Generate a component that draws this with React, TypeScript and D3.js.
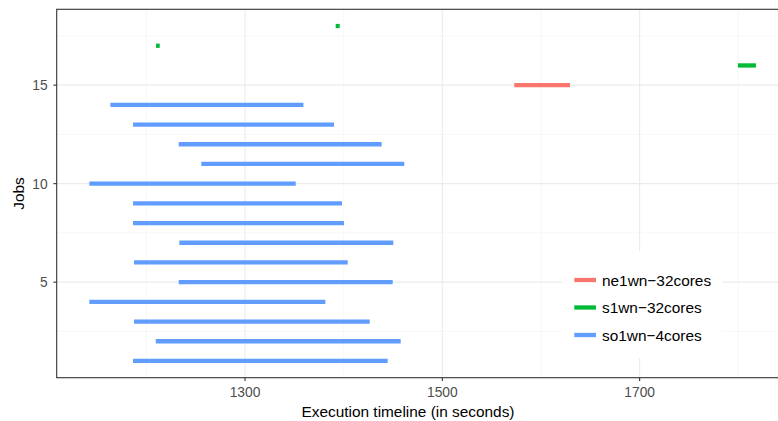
import React from "react";
import * as d3 from "d3";

const jobs = [1, 2, 3, 4, 5, 6, 7, 8, 9, 10, 11, 12, 13, 14, 15, 16, 17, 18];
const starts = [1186.5, 1209.5, 1187.5, 1142.2, 1232.8, 1187.5, 1233.4, 1186.5, 1186.5, 1142.2, 1255.7, 1232.8, 1186.5, 1163.5, 1572.9, 1799.6, 1209.8, 1391.9];
const ends = [1444.6, 1457.8, 1426.4, 1381.4, 1449.7, 1404.1, 1450.3, 1400.3, 1398.3, 1351.4, 1461.4, 1438.5, 1390.2, 1359.2, 1629.4, 1817.9, 1213.5, 1396.0];
const groups = [
  "so1wn-4cores", "so1wn-4cores", "so1wn-4cores", "so1wn-4cores", "so1wn-4cores",
  "so1wn-4cores", "so1wn-4cores", "so1wn-4cores", "so1wn-4cores", "so1wn-4cores",
  "so1wn-4cores", "so1wn-4cores", "so1wn-4cores", "so1wn-4cores",
  "ne1wn-32cores", "s1wn-32cores", "s1wn-32cores", "s1wn-32cores",
];
const legendKeys = ["ne1wn-32cores", "s1wn-32cores", "so1wn-4cores"];
const legendLabels = ["ne1wn\u221232cores", "s1wn\u221232cores", "so1wn\u22124cores"];
const colors = ["#F8766D", "#00BA38", "#619CFF"];
const xMajor = [1300, 1500, 1700];
const xMinor = [1200, 1400, 1600, 1800];
const yMajor = [5, 10, 15];
const yMinor = [2.5, 7.5, 12.5, 17.5];

const FONT = "'Liberation Sans', Arial, Helvetica, sans-serif";

export default function App() {
  const W = 778, H = 421;
  const left = 56.7, right = 789.3, top = 9.3, bottom = 377.7;
  const x = d3.scaleLinear().domain([1109.1, 1851.7]).range([left, right]);
  const y = d3.scaleLinear().domain([0.15, 18.85]).range([bottom, top]);
  const color = d3.scaleOrdinal<string, string>().domain(legendKeys).range(colors);

  const lx0 = 561.7, lx1 = 722.7, ly0 = 251, ly1 = 358.3;
  const keyY = [280, 307.5, 335];

  return (
    <svg width={W} height={H} style={{ position: "absolute", left: 0, top: 0 }} fontFamily={FONT}>
      <rect x={0} y={0} width={W} height={H} fill="#fff" />
      {yMinor.map((v) => (
        <line key={"ym" + v} x1={left} x2={right} y1={y(v)} y2={y(v)} stroke="#F2F2F2" strokeWidth={0.6} />
      ))}
      {xMinor.map((v) => (
        <line key={"xm" + v} x1={x(v)} x2={x(v)} y1={top} y2={bottom} stroke="#F2F2F2" strokeWidth={0.6} />
      ))}
      {yMajor.map((v) => (
        <line key={"yM" + v} x1={left} x2={right} y1={y(v)} y2={y(v)} stroke="#EBEBEB" strokeWidth={1.1} />
      ))}
      {xMajor.map((v) => (
        <line key={"xM" + v} x1={x(v)} x2={x(v)} y1={top} y2={bottom} stroke="#EBEBEB" strokeWidth={1.1} />
      ))}
      {jobs.map((j, i) => (
        <line key={"s" + j} x1={x(starts[i])} x2={x(ends[i])} y1={y(j)} y2={y(j)} stroke={color(groups[i])} strokeWidth={4.3} />
      ))}
      <rect x={lx0} y={ly0} width={lx1 - lx0} height={ly1 - ly0} fill="#fff" />
      {legendKeys.map((k, i) => (
        <g key={"lg" + k}>
          <line x1={574.3} x2={596} y1={keyY[i]} y2={keyY[i]} stroke={color(k)} strokeWidth={4.3} />
          <text x={602} y={keyY[i]} dy="0.36em" fontSize={15.4} fill="#000">{legendLabels[i]}</text>
        </g>
      ))}
      <rect x={left} y={top} width={right - left} height={bottom - top} fill="none" stroke="#333333" strokeWidth={1.1} />
      {yMajor.map((v) => (
        <g key={"yt" + v}>
          <line x1={left - 3.3} x2={left} y1={y(v)} y2={y(v)} stroke="#333333" strokeWidth={1.1} />
          <text x={left - 9} y={y(v)} dy="0.36em" textAnchor="end" fontSize={13.8} fill="#4D4D4D">{v}</text>
        </g>
      ))}
      {xMajor.map((v) => (
        <g key={"xt" + v}>
          <line x1={x(v)} x2={x(v)} y1={bottom} y2={bottom + 3.3} stroke="#333333" strokeWidth={1.1} />
          <text x={x(v)} y={397} textAnchor="middle" fontSize={13.8} fill="#4D4D4D">{v}</text>
        </g>
      ))}
      <text x={408} y={416.5} textAnchor="middle" fontSize={15.4} fill="#000">Execution timeline (in seconds)</text>
      <text transform={`translate(23.5,${(top + bottom) / 2}) rotate(-90)`} textAnchor="middle" fontSize={15.4} fill="#000">Jobs</text>
    </svg>
  );
}
